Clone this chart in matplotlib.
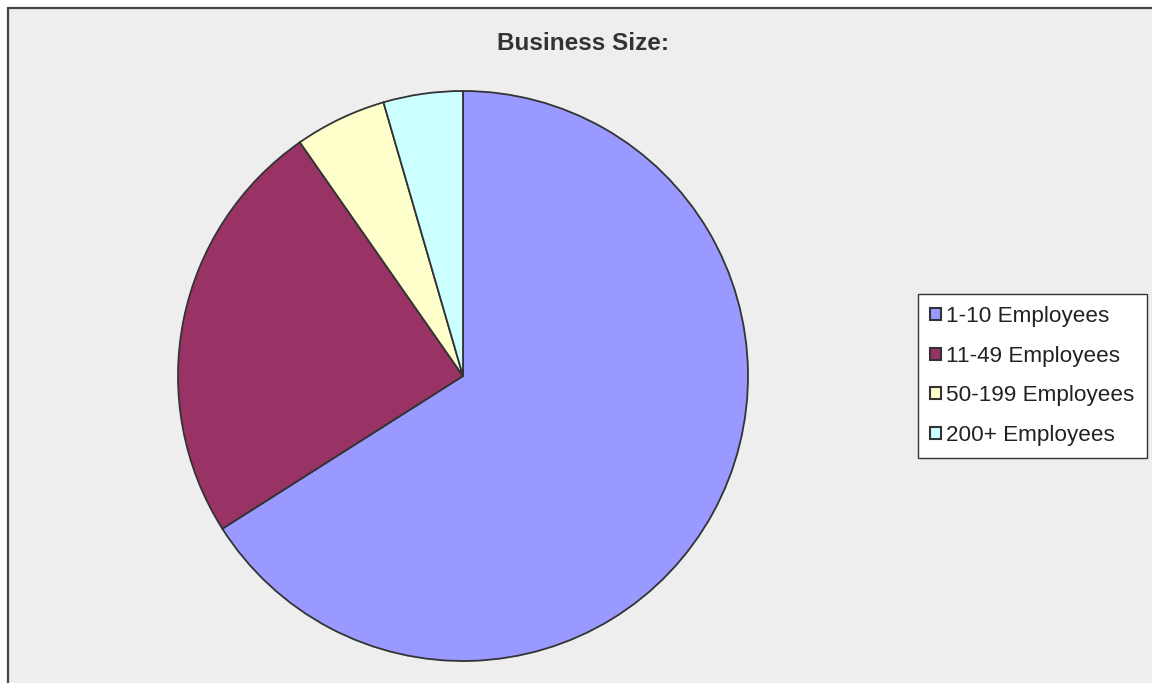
import matplotlib.pyplot as plt
from matplotlib.patches import Rectangle

# Data
labels = ['1-10 Employees', '11-49 Employees', '50-199 Employees', '200+ Employees']
shares = [66.0, 24.3, 5.2, 4.5]
colors = ['#9999FF', '#993366', '#FFFFCC', '#CCFFFF']

plt.rcParams['font.family'] = ['Liberation Sans', 'DejaVu Sans']

W, H = 1152, 683
fig = plt.figure(figsize=(W / 100, H / 100), dpi=100)
fig.patch.set_facecolor('white')

# Grey chart panel with dark border on top and left
fig.patches.append(Rectangle((8 / W, -0.01), 1.01, 1 - 8 / H + 0.01,
                             transform=fig.transFigure, facecolor='#EEEEEE',
                             edgecolor='#444444', linewidth=1.6, zorder=-10))

# Pie axes: centre (463, 376) px, radius ~285 px
cx, cy, r = 463, 376, 285
ax = fig.add_axes([(cx - r) / W, (H - cy - r) / H, 2 * r / W, 2 * r / H])
wedges, _ = ax.pie(shares, colors=colors, startangle=90, counterclock=False,
                   wedgeprops=dict(edgecolor='#333333', linewidth=1.3))
ax.set_xlim(-1.0, 1.0)
ax.set_ylim(-1.0, 1.0)
ax.set_aspect('auto')
ax.axis('off')

fig.text(583 / W, 1 - 44 / H, 'Business Size:', ha='center', va='center',
         fontsize=17.5, fontweight='bold', color='#333333')

leg = fig.legend(wedges, labels, loc='center left',
                 bbox_to_anchor=(918 / W, 1 - 376 / H),
                 fontsize=16.2, frameon=True, fancybox=False,
                 handlelength=0.45, handleheight=0.45, handletextpad=0.25,
                 labelspacing=0.82, borderpad=0.55, borderaxespad=0)
leg.get_frame().set_edgecolor('#333333')
leg.get_frame().set_linewidth(1.0)
leg.get_frame().set_facecolor('white')
leg.get_frame().set_alpha(1)
for h in leg.legend_handles:
    h.set_linewidth(1.5)
for t in leg.get_texts():
    t.set_color('#222222')

fig.savefig('out.png', dpi=100)
